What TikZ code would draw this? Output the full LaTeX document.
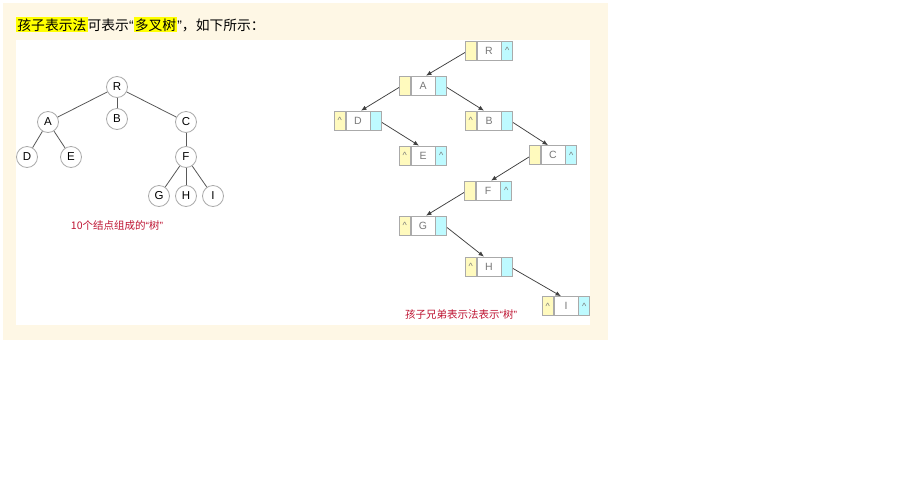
\documentclass[tikz,border=0pt]{standalone}
\usepackage{fontspec}
\setmainfont{Liberation Sans}
\newfontfamily\cjk{Noto Sans CJK SC}
\usepackage{xcolor}
\usetikzlibrary{arrows.meta,positioning}
\definecolor{panelcream}{RGB}{254,247,229}
\definecolor{hlyellow}{RGB}{255,255,0}
\definecolor{fcyellow}{RGB}{255,250,190}
\definecolor{sbcyan}{RGB}{190,250,255}
\definecolor{cellgray}{RGB}{170,170,170}
\definecolor{lettergray}{RGB}{120,120,120}
\definecolor{captred}{RGB}{190,20,50}

\newcommand{\hlbox}[1]{{\setlength{\fboxsep}{1.2pt}\colorbox{hlyellow}{#1}}}
\newcommand{\nil}{\textasciicircum}
% child-sibling node: name, x, y, letter, first-child mark, sibling mark
\newcommand{\csnode}[6]{%
  \node[datacell] (#1) at (#2,#3) {#4};
  \node[fccell, left=0pt of #1] (#1c) {#5};
  \node[sbcell, right=0pt of #1] (#1s) {#6};
}

\begin{document}
\begin{tikzpicture}[x=1pt, y=-1pt,
  tnode/.style={circle, draw=cellgray, fill=white, line width=0.8pt,
                minimum size=21pt, inner sep=0pt, font=\fontsize{11.5}{12}\selectfont},
  tedge/.style={draw=black!65, line width=0.8pt},
  cell/.style={draw=cellgray, line width=0.7pt, minimum height=19pt, inner sep=0pt,
               text=lettergray},
  datacell/.style={cell, fill=white, minimum width=24pt, font=\fontsize{10.5}{12}\selectfont},
  fccell/.style={cell, fill=fcyellow, minimum width=11pt, font=\fontsize{9}{10}\selectfont},
  sbcell/.style={cell, fill=sbcyan, minimum width=11pt, font=\fontsize{9}{10}\selectfont},
  ptr/.style={-{Latex[length=5.5pt,width=4.5pt]}, draw=black!75, line width=0.75pt},
  capt/.style={font=\cjk\fontsize{10.5}{12}\selectfont, text=captred}
]
\useasboundingbox (0,0) rectangle (914,499);
\fill[panelcream] (3,3) rectangle (608,340);
\fill[white] (16,40) rectangle (590,325);

\node[anchor=base west, inner sep=0pt, font=\cjk\fontsize{13.8}{16}\selectfont] (title) at (16,30)
  {\hlbox{孩子表示法}可表示{\rmfamily “}\hlbox{多叉树}{\rmfamily ”}，如下所示：};

% tree
\node[tnode] (R) at (117,87) {R};
\node[tnode] (A) at (48,122) {A};
\node[tnode] (B) at (117,119) {B};
\node[tnode] (C) at (186,122) {C};
\node[tnode] (D) at (27,157) {D};
\node[tnode] (E) at (71,157) {E};
\node[tnode] (F) at (186,157) {F};
\node[tnode] (G) at (159,196) {G};
\node[tnode] (H) at (186,196) {H};
\node[tnode] (I) at (213,196) {I};
\foreach \p/\c in {R/A, R/B, R/C, A/D, A/E, C/F, F/G, F/H, F/I}
  \draw[tedge] (\p) -- (\c);
\node[capt] (treecap) at (117,226) {10个结点组成的{\rmfamily “}树{\rmfamily ”}};

% child-sibling list
\csnode{nR}{489}{50.5}{R}{}{\nil}
\csnode{nA}{423}{85.5}{A}{}{}
\csnode{nD}{358}{120.5}{D}{\nil}{}
\csnode{nB}{489}{120.5}{B}{\nil}{}
\csnode{nE}{423}{155.5}{E}{\nil}{\nil}
\csnode{nC}{553}{155}{C}{}{\nil}
\csnode{nF}{488}{190.5}{F}{}{\nil}
\csnode{nG}{423}{225.5}{G}{\nil}{}
\csnode{nH}{489}{266.5}{H}{\nil}{}
\csnode{nI}{566}{306}{I}{\nil}{\nil}

\draw[ptr] ([yshift=-2]nRc.west) -- ([xshift=3]nA.north);
\draw[ptr] ([yshift=-2]nAc.west) -- ([xshift=3]nD.north);
\draw[ptr] ([yshift=-2]nAs.east) -- ([xshift=-5]nB.north);
\draw[ptr] ([yshift=-2]nDs.east) -- ([xshift=-4]nE.north);
\draw[ptr] ([yshift=-2]nBs.east) -- ([xshift=-5]nC.north);
\draw[ptr] ([yshift=-2]nCc.west) -- ([xshift=3]nF.north);
\draw[ptr] ([yshift=-2]nFc.west) -- ([xshift=3]nG.north);
\draw[ptr] ([yshift=-2]nGs.east) -- ([xshift=-5]nH.north);
\draw[ptr] ([yshift=-2]nHs.east) -- ([xshift=-5]nI.north);

\node[capt] (listcap) at (461,314) {孩子兄弟表示法表示{\rmfamily “}树{\rmfamily ”}};
\end{tikzpicture}
\end{document}
